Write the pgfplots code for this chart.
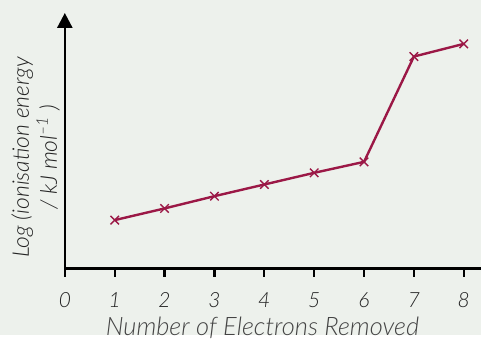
\documentclass[border=0pt]{standalone}
\usepackage{pgfplots}
\pgfplotsset{compat=1.18}
\usetikzlibrary{arrows.meta}
\usepackage{fontspec}
\setmainfont{Lato Light}
\definecolor{bgc}{HTML}{EDF1EC}
\definecolor{linec}{HTML}{9B1846}
\definecolor{labc}{HTML}{444444}
\definecolor{tickc}{HTML}{222222}

\begin{document}
\begin{tikzpicture}[x=1pt,y=1pt]
\fill[bgc] (-65,-67) rectangle (417,269);
\begin{axis}[
    at={(0,0)}, anchor=south west,
    scale only axis,
    width=417pt, height=256pt,
    xmin=0, xmax=8.34,
    ymin=0, ymax=256,
    axis x line=bottom,
    axis y line=left,
    x axis line style={-, line width=2.6pt},
    y axis line style={-{Triangle[length=15pt,width=15pt]}, line width=2.6pt},
    xtick={0,1,2,3,4,5,6,7,8},
    ytick=\empty,
    major tick length=0pt,
    /pgf/number format/assume math mode=true,
    xticklabel style={font=\fontsize{21}{24}\selectfont\itshape, text=tickc,
      anchor=center, yshift=-32pt},
    xlabel={Number of Electrons Removed},
    xlabel style={at={(axis description cs:0.475,0)}, anchor=center, yshift=-60pt,
      font=\fontsize{25.5}{28}\selectfont\itshape, text=labc},
    ylabel={Log (ionisation energy\\/ kJ mol\textsuperscript{--1} )},
    ylabel style={at={(axis description cs:-0.07,0.434)}, anchor=center, align=center,
      font=\fontsize{23}{28}\selectfont\itshape, text=tickc},
    clip=false,
]
\pgfplotsinvokeforeach{0,...,8}{
  \draw[line width=2.2pt] (axis cs:#1,0) -- ++(0pt,-9pt);
}
\addplot[color=linec, line width=2.4pt, mark=x, mark size=6pt,
  mark options={line width=1.4pt}]
  coordinates {
  (1,48.3)(2,60)(3,72.3)(4,84)(5,95.7)(6,106.7)(7,212.3)(8,225)
  };
\end{axis}
\end{tikzpicture}
\end{document}
